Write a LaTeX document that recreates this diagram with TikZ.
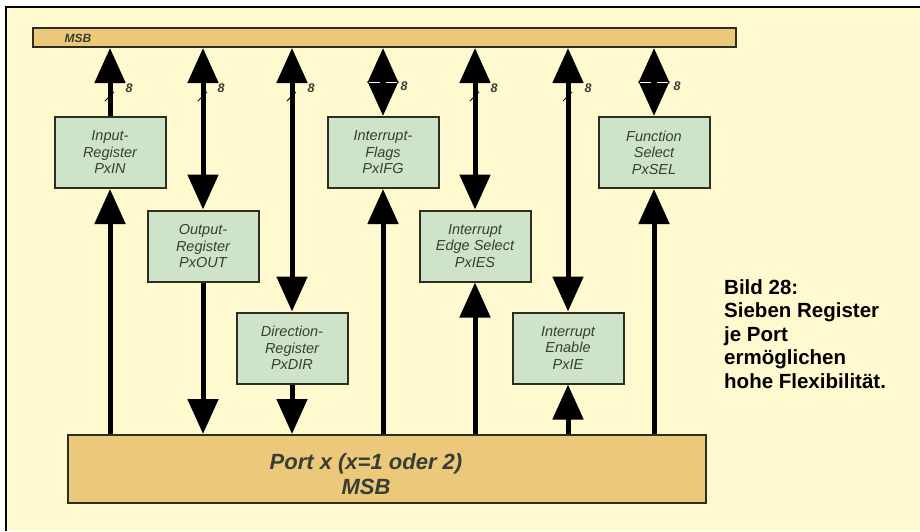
\documentclass[tikz,border=0pt]{standalone}
\usepackage{fontspec}
\setmainfont{Liberation Sans}
\usetikzlibrary{arrows.meta}
\definecolor{bg}{RGB}{255,249,208}
\definecolor{regfill}{RGB}{206,228,200}
\definecolor{busfill}{RGB}{236,200,122}
\definecolor{edge}{RGB}{45,45,35}
\definecolor{txt}{RGB}{55,62,52}
\begin{document}
\begin{tikzpicture}[x=1pt,y=-1pt,
  >={Triangle[width=30pt,length=35pt]},
  reg/.style={draw=edge, line width=2pt, fill=regfill, minimum width=111pt, minimum height=71pt,
    inner sep=0pt, align=center, text=txt, font=\fontsize{14.5}{16.5}\selectfont\itshape},
  busbox/.style={draw=edge, line width=2pt, fill=busfill, inner sep=0pt},
  conn/.style={line width=5pt, draw=black},
  lbl/.style={font=\fontsize{12.5}{14}\selectfont\itshape\bfseries, text=txt, inner sep=0pt},
  tick/.style={line width=1pt, draw=black},
  gap/.style={line width=1.6pt, draw=white},
  caption/.style={font=\fontsize{20.5}{23.5}\selectfont\bfseries, align=left, inner sep=0pt, anchor=north west}]
\useasboundingbox (0,0) rectangle (920,531);
\fill[white] (0,0) rectangle (920,531);
\fill[bg] (6,7) rectangle (920,531);
\draw[line width=2pt] (6,531) -- (6,7) -- (920,7);

% bus and port
\node[busbox, minimum width=703pt, minimum height=19pt] (bus) at (384.5,37.5) {};
\node[font=\fontsize{12}{14}\selectfont\itshape\bfseries, text=txt, inner sep=0pt] (msb) at (78,38) {MSB};
\node[busbox, minimum width=638pt, minimum height=68pt] (port) at (387,469) {};
\node[font=\fontsize{22}{25}\selectfont\itshape\bfseries, text=txt, align=center, inner sep=0pt] (ptxt) at (366,474.5) {Port x (x=1 oder 2)\\MSB};

% registers
\node[reg] (in) at (110,152.5) {Input-\\Register\\PxIN};
\node[reg] (out) at (203,246) {Output-\\Register\\PxOUT};
\node[reg] (dir) at (292,348) {Direction-\\Register\\PxDIR};
\node[reg] (ifg) at (383,152.5) {Interrupt-\\Flags\\PxIFG};
\node[reg] (ies) at (475,246) {Interrupt\\Edge Select\\PxIES};
\node[reg] (ie) at (568,348) {Interrupt\\Enable\\PxIE};
\node[reg] (sel) at (654,152.5) {Function\\Select\\PxSEL};

% connectors to bus
\draw[conn,->] (in.north) -- (in.north |- bus.south);
\draw[conn,<->] (out.north |- bus.south) -- (out.north);
\draw[conn,<->] (dir.north |- bus.south) -- (dir.north);
\draw[conn,<->] (ifg.north |- bus.south) -- (ifg.north);
\draw[conn,<->] (ies.north |- bus.south) -- (ies.north);
\draw[conn,<->] (ie.north |- bus.south) -- (ie.north);
\draw[conn,<->] (sel.north |- bus.south) -- (sel.north);

% connectors to port
\draw[conn,->] (in.south |- port.north) -- (in.south);
\draw[conn,->] (out.south) -- (out.south |- port.north);
\draw[conn,->] (dir.south) -- (dir.south |- port.north);
\draw[conn,->] (ifg.south |- port.north) -- (ifg.south);
\draw[conn,->] (ies.south |- port.north) -- (ies.south);
\draw[conn,->] (ie.south |- port.north) -- (ie.south);
\draw[conn,->] (sel.south |- port.north) -- (sel.south);

% gaps between diamond heads
\draw[gap] (369,82.5) -- (380,82.5) (386,82.5) -- (397,82.5);
\draw[gap] (640,82.5) -- (651,82.5) (657,82.5) -- (668,82.5);

% bus width ticks
\foreach \x in {110,203,292,475,568} \draw[tick] (\x-5,101) -- (\x+4,92);

% width labels
\node[lbl] (w1) at (129,88) {8};
\node[lbl] (w2) at (221,88) {8};
\node[lbl] (w3) at (311,88) {8};
\node[lbl] (w4) at (404,86) {8};
\node[lbl] (w5) at (494,88) {8};
\node[lbl] (w6) at (588,88) {8};
\node[lbl] (w7) at (677,86) {8};

% caption
\node[caption] (cap) at (724,279) {Bild 28:\\Sieben Register\\je Port\\ermöglichen\\hohe Flexibilität.};
\end{tikzpicture}
\end{document}
